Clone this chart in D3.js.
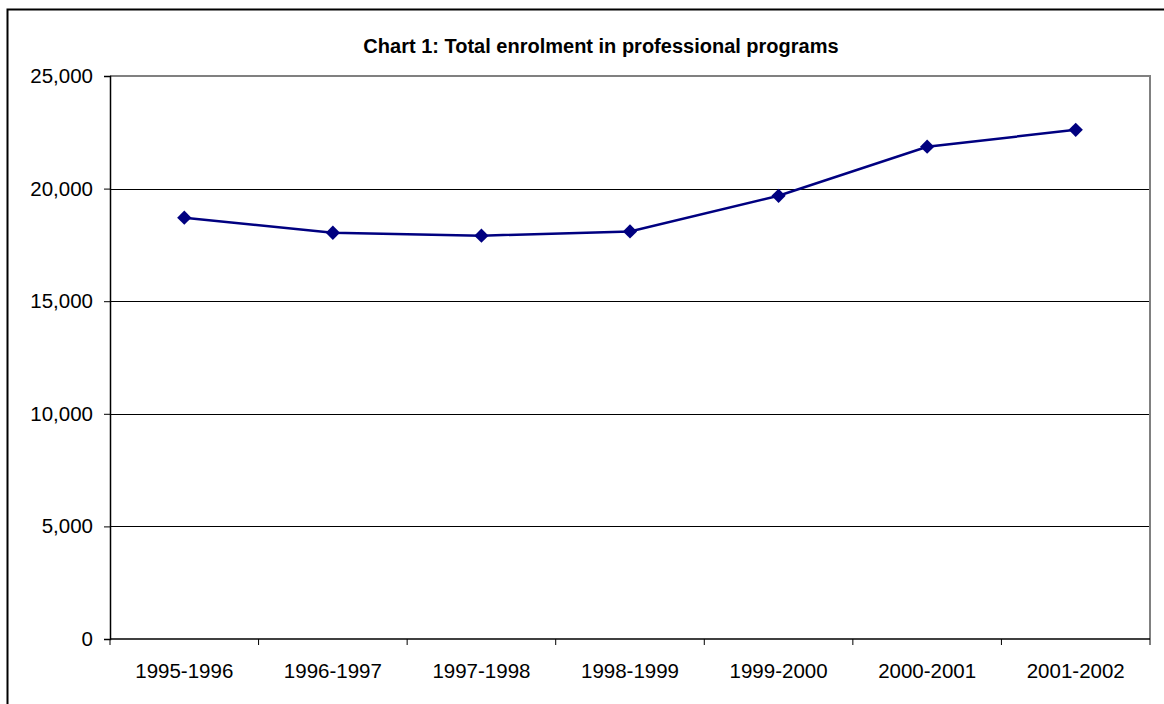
<!DOCTYPE html>
<html><head><meta charset="utf-8">
<script src="https://cdn.jsdelivr.net/npm/d3@7"></script>
<style>body{margin:0;background:#fff}svg{display:block}text{font-family:"Liberation Sans",Arial,sans-serif}</style>
</head><body>
<script>
const categories = ["1995-1996","1996-1997","1997-1998","1998-1999","1999-2000","2000-2001","2001-2002"];
const enrolment = [18710, 18040, 17910, 18100, 19680, 21860, 22610];
const yTicks = [0, 5000, 10000, 15000, 20000, 25000];
const title = "Chart 1: Total enrolment in professional programs";

const W = 1164, H = 704;
const m = {left:110, top:76, right:1150, bottom:639};
const svg = d3.select("body").append("svg").attr("width", W).attr("height", H);

// outer chart border (right/bottom lie outside the window)
svg.append("rect").attr("x",7.5).attr("y",9.5).attr("width",1190).attr("height",720)
  .attr("fill","#fff").attr("stroke","#000").attr("stroke-width",2);

const x = d3.scaleBand().domain(categories).range([m.left, m.right]);
const y = d3.scaleLinear().domain([0,25000]).range([m.bottom, m.top]);

// gridlines
svg.append("g").selectAll("line").data(yTicks.filter(d=>d>0 && d<25000)).join("line")
  .attr("x1", m.left).attr("x2", m.right)
  .attr("y1", d=>Math.round(y(d))+0.5).attr("y2", d=>Math.round(y(d))+0.5)
  .attr("stroke","#000").attr("stroke-width",1);

// plot area top and right border (grey)
svg.append("path")
  .attr("d", `M${m.left},${m.top} H${m.right} V${m.bottom}`)
  .attr("fill","none").attr("stroke","#808080").attr("stroke-width",2);

// y axis
const yAxis = svg.append("g").attr("transform",`translate(${m.left},0)`)
  .call(d3.axisLeft(y).tickValues(yTicks).tickSize(6).tickPadding(11).tickFormat(d3.format(",")));
yAxis.select(".domain").attr("stroke","#000").attr("stroke-width",1.5);
yAxis.selectAll(".tick line").attr("stroke","#000");
yAxis.selectAll("text").attr("font-size",20.5).attr("fill","#000")
  .attr("font-family","'Liberation Sans',Arial,sans-serif");

// x axis
const xAxis = svg.append("g").attr("transform",`translate(0,${m.bottom})`)
  .call(d3.axisBottom(x).tickSize(0).tickPadding(24));
xAxis.select(".domain").remove();
xAxis.selectAll("text").attr("font-size",20.5).attr("fill","#000")
  .attr("font-family","'Liberation Sans',Arial,sans-serif");
svg.append("line").attr("x1",m.left).attr("x2",m.right).attr("y1",m.bottom).attr("y2",m.bottom)
  .attr("stroke","#000").attr("stroke-width",1.5);
const bounds = categories.map(c=>x(c)).concat([m.right]);
svg.append("g").selectAll("line").data(bounds).join("line")
  .attr("x1",d=>d).attr("x2",d=>d).attr("y1",m.bottom).attr("y2",m.bottom+6)
  .attr("stroke","#000").attr("stroke-width",1);

// line
const cx = d => x(d) + x.bandwidth()/2;
svg.append("path").datum(enrolment)
  .attr("d", d3.line().x((d,i)=>cx(categories[i])).y(d=>y(d)))
  .attr("fill","none").attr("stroke","#000080").attr("stroke-width",2.5);

// markers
svg.append("g").selectAll("path").data(enrolment).join("path")
  .attr("transform",(d,i)=>`translate(${cx(categories[i])},${y(d)})`)
  .attr("d", d3.symbol().type(d3.symbolDiamond2).size(130))
  .attr("fill","#000080");

// title
svg.append("text").attr("x",601).attr("y",53).attr("text-anchor","middle")
  .attr("font-size",20).attr("font-weight","bold").attr("fill","#000").text(title);
</script>
</body></html>
